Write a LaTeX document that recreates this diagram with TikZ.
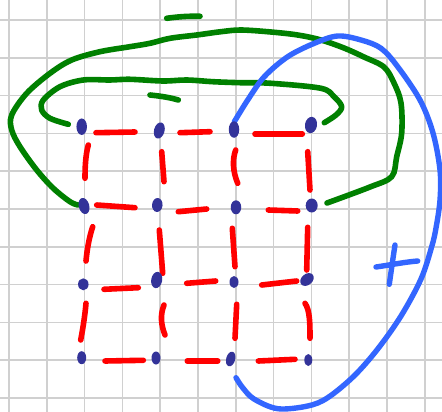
\documentclass[tikz,border=0pt]{standalone}
\usetikzlibrary{shapes.geometric}
\definecolor{gridgray}{RGB}{208,208,208}
\definecolor{pengreen}{RGB}{0,128,0}
\definecolor{penred}{RGB}{255,0,0}
\definecolor{penblue}{RGB}{51,102,255}
\definecolor{dotblue}{RGB}{51,51,153}
\tikzset{
  gridline/.style={draw=gridgray, line width=1.6pt},
  greenpen/.style={draw=pengreen, line width=5.6pt, line cap=round, line join=round},
  redpen/.style={draw=penred, line width=5.6pt, line cap=round},
  bluepen/.style={draw=penblue, line width=5.4pt, line cap=round, line join=round},
  gdot/.style={ellipse, fill=dotblue, inner sep=0pt, minimum width=10.5pt, minimum height=16.5pt}
}
\begin{document}
\begin{tikzpicture}[x=1pt,y=-1pt]
\useasboundingbox (0,0) rectangle (442,412);
\fill[white] (0,0) rectangle (442,412);
% grid
\foreach \k in {0,...,11} {
  \draw[gridline] ({9+37.8*\k},0) -- ({9+37.8*\k},412);
}
\foreach \k in {0,...,10} {
  \draw[gridline] (0,{20+37.8*\k}) -- (442,{20+37.8*\k});
}
% green strokes
\draw[greenpen] plot[smooth, tension=0.55] coordinates {
  (327,203) (370,187) (391.7,176.7) (396.7,156.7) (401.7,133) (401,103) (394,83) (384,67) (364,57)
  (344,48) (321,40) (297.7,35) (271,32) (241,30) (221,31.7) (196.7,35) (170,38.3) (150,43.3)
  (130,46.7) (100,51.7) (71.7,60) (50,73.3) (26.7,93.3) (11.7,115) (11.7,130) (20,146.7)
  (36.7,170) (53.3,188.3) (70,201.7) (78,205)};
\draw[greenpen] plot[smooth, tension=0.55] coordinates {
  (68.3,124.3) (50,118.3) (41.7,110) (43.3,100) (60,86.7) (83.3,80) (110,80) (130,79.3)
  (163,81) (186.7,80) (213,81.7) (240,82.7) (271,83.3) (321,88.3) (334,96.7) (341.7,106.7)
  (336,115) (324.3,122.7)};
\draw[greenpen] (166.7,18.3) .. controls (180,16.5) and (190,16) .. (200,16.3);
\draw[greenpen] (150,95) .. controls (160,96) and (170,97.5) .. (178.3,100);
% blue strokes
\draw[bluepen] plot[smooth, tension=0.55] coordinates {
  (234.3,121.7) (247.7,100) (264.3,76.7) (287.7,56.7) (314.3,43.3) (337.7,36) (361,40) (381,48.3)
  (397.7,66.7) (420,100) (433,133) (440,170) (440,200) (436,228) (431.7,246.7) (421,279) (401,316)
  (377.7,349) (354,376) (327.7,397.7) (307.7,406) (277.7,408.7) (254,399) (242.7,387.7) (236,377.7)};
\draw[bluepen] (376,267) .. controls (390,265) and (405,262) .. (417.7,261);
\draw[bluepen] (395,245) .. controls (393,258) and (391,272) .. (389.3,284.3);
% red dashes - horizontal
\draw[redpen] (96,132.7) -- (135,132);
\draw[redpen] (180,132.7) -- (210,131.7);
\draw[redpen] (255,134) -- (302.3,134);
\draw[redpen] (96.7,205) -- (135,207.7);
\draw[redpen] (178.3,211.7) -- (206.7,209);
\draw[redpen] (268.3,210) -- (297.7,211);
\draw[redpen] (104,289.3) -- (138.3,287.7);
\draw[redpen] (186.7,283.3) -- (215.7,281);
\draw[redpen] (261.7,285) -- (296.7,281);
\draw[redpen] (105,361) -- (143.3,360.3);
\draw[redpen] (187.3,361) -- (217.7,361);
\draw[redpen] (258.3,361) -- (295,359.3);
% red dashes - vertical
\draw[redpen] (88.3,145) .. controls (85.5,155) and (85,168) .. (85,178.3);
\draw[redpen] (161.7,151.7) -- (164,181.7);
\draw[redpen] (235.7,150) .. controls (232,160) and (233,172) .. (237.7,183.3);
\draw[redpen] (307.7,151.7) -- (310,190);
\draw[redpen] (92.7,226.7) .. controls (89,238) and (87,250) .. (86,261);
\draw[redpen] (159.3,230) -- (162.7,273.3);
\draw[redpen] (232.3,228.3) -- (235,266.7);
\draw[redpen] (307.7,227.3) -- (306.7,270);
\draw[redpen] (86,303.3) .. controls (85,315) and (83,328) .. (80.7,340);
\draw[redpen] (164,305) .. controls (160,315) and (161,325) .. (165,335);
\draw[redpen] (236.7,304.3) -- (235,338.3);
\draw[redpen] (305,303.3) .. controls (310,310) and (310,325) .. (310,338.3);
% dots
\node[gdot] (d11) at (81.7,126.7) {};
\node[gdot, rotate=-15] (d12) at (159.3,130.5) {};
\node[gdot] (d13) at (234,129.5) {};
\node[gdot, rotate=-10, minimum width=12pt] (d14) at (311,125) {};
\node[gdot, rotate=15] (d21) at (84,206) {};
\node[gdot, rotate=-5, minimum height=14pt] (d22) at (157.3,205) {};
\node[gdot, minimum height=14pt] (d23) at (236,207.3) {};
\node[gdot, minimum height=14pt, minimum width=12pt] (d24) at (311.7,205.5) {};
\node[gdot, minimum height=12pt] (d31) at (83.3,284.3) {};
\node[gdot, rotate=-10, minimum width=11pt] (d32) at (156.7,280) {};
\node[gdot, minimum height=12pt, minimum width=9pt] (d33) at (234,282) {};
\node[gdot, rotate=-50, minimum height=15pt, minimum width=11pt] (d34) at (307,279.5) {};
\node[gdot, minimum height=13pt, minimum width=9pt] (d41) at (81.7,357.7) {};
\node[gdot, minimum height=13pt, minimum width=9pt] (d42) at (156,358) {};
\node[gdot, rotate=-15, minimum height=15pt, minimum width=9pt] (d43) at (230.7,359) {};
\node[gdot, minimum height=12pt, minimum width=8pt] (d44) at (308.3,360) {};
\end{tikzpicture}
\end{document}
